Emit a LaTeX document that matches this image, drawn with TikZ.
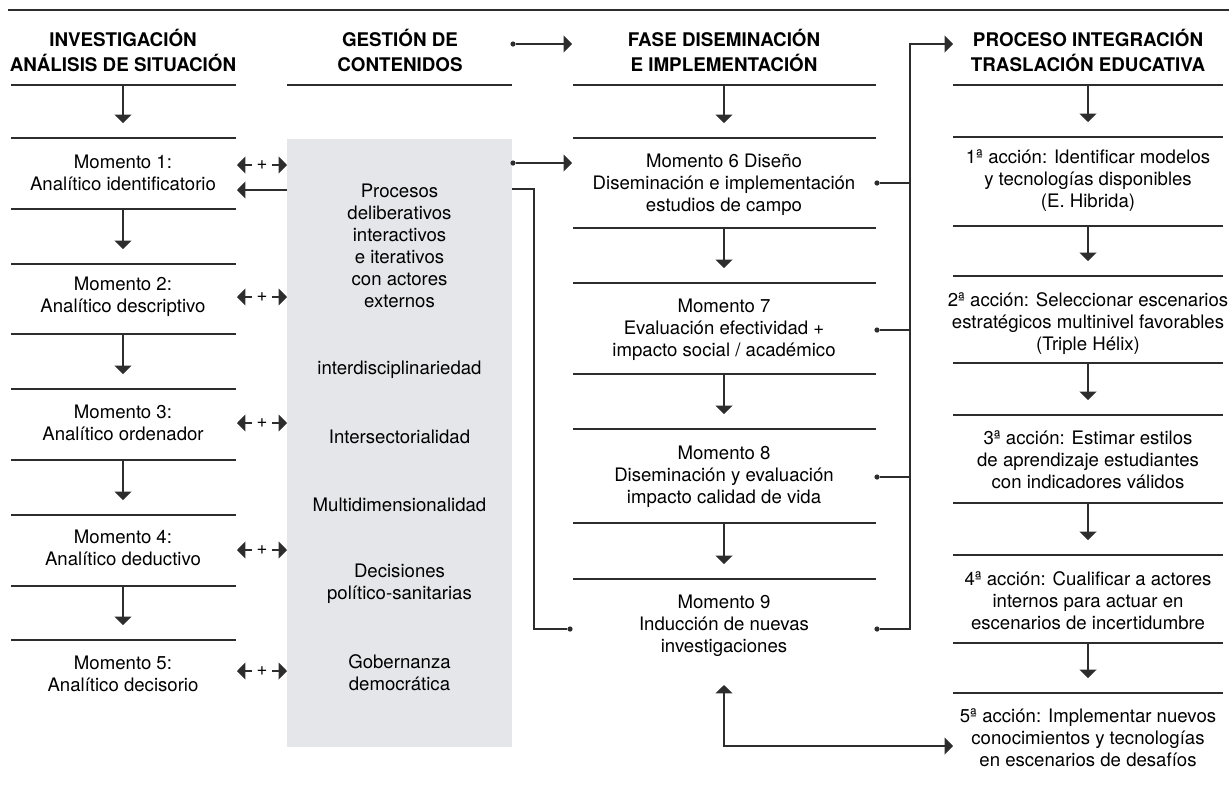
\documentclass[tikz,border=0pt]{standalone}
\usepackage{fontspec}
\setmainfont{TeX Gyre Heros}
\usetikzlibrary{arrows.meta}

\definecolor{panel}{RGB}{229,230,234}
\definecolor{ink}{RGB}{45,45,45}

\begin{document}
\begin{tikzpicture}[x=0.5pt, y=-0.5pt,
    every node/.style={font=\fontsize{9.3}{11}\selectfont, align=center},
    head/.style={font=\bfseries\fontsize{9.4}{12.5}\selectfont},
    rule/.style={draw=ink, line width=0.6pt},
    tip/.style={rule, -{Triangle[width=8.5pt,length=4.2pt]}},
    tips/.style={rule, {Triangle[width=8.5pt,length=4.2pt]}-{Triangle[width=8.5pt,length=4.2pt]}},
    dot/.style={circle, fill=ink, inner sep=0pt, minimum size=2.6pt}]

\useasboundingbox (0,0) rectangle (1229,784);
\draw[rule] (8,10) -- (1229,10);

% headers
\node[head] (h1) at (123,50) {INVESTIGACIÓN\\ANÁLISIS DE SITUACIÓN};
\node[head] (h2) at (400,50) {GESTIÓN DE\\CONTENIDOS};
\node[head] (h3) at (724,50) {FASE DISEMINACIÓN\\E IMPLEMENTACIÓN};
\node[head] (h4) at (1088,50) {PROCESO INTEGRACIÓN\\TRASLACIÓN EDUCATIVA};
\draw[rule] (287,85) -- (512,85);

% gray panel
\fill[panel] (287,139) rectangle (512,747);

% pairs of rules with a down arrow between them
\foreach \l/\r/\m/\ya/\yb [count=\i] in {
    11/236/123/85/138, 11/236/123/209/264, 11/236/123/334/389,
    11/236/123/460/515, 11/236/123/586/640,
    573/876/724/85/138, 573/876/724/228/283, 573/876/724/374/429,
    573/876/724/523/579,
    953/1223/1088/85/137, 953/1223/1088/226/276, 953/1223/1088/363/415,
    953/1223/1088/503/555, 953/1223/1088/643/693}{
  \draw[rule] (\l,\ya) -- (\r,\ya);
  \draw[rule] (\l,\yb) -- (\r,\yb);
  \coordinate (s\i) at (\m,\ya);
  \coordinate (e\i) at (\m,\yb-15);
  \draw[tip] (s\i) -- (e\i);
}

% investigacion
\node (m1) at (123,173) {Momento 1:\\Analítico identificatorio};
\node (m2) at (123,297) {Momento 2:\\Analítico descriptivo};
\node (m3) at (123,423) {Momento 3:\\Analítico ordenador};
\node (m4) at (123,548) {Momento 4:\\Analítico deductivo};
\node (m5) at (123,674) {Momento 5:\\Analítico decisorio};

% gestion de contenidos
\node (g1) at (399.5,246) {Procesos\\deliberativos\\interactivos\\e iterativos\\con actores\\externos};
\node (g2) at (399.5,370) {interdisciplinariedad};
\node (g3) at (399.5,437) {Intersectorialidad};
\node (g4) at (399.5,505) {Multidimensionalidad};
\node (g5) at (399.5,584) {Decisiones\\político-sanitarias};
\node (g6) at (399.5,673) {Gobernanza\\democrática};

% diseminacion
\node (m6) at (724,185) {Momento 6 Diseño\\Diseminación e implementación\\estudios de campo};
\node (m7) at (724,330) {Momento 7\\Evaluación efectividad +\\impacto social / académico};
\node (m8) at (724,477) {Momento 8\\Diseminación y evaluación\\impacto calidad de vida};
\node (m9) at (724,626) {Momento 9\\Inducción de nuevas\\investigaciones};

% integracion
\node (a1) at (1088,181) {1ª acción: Identificar modelos\\y tecnologías disponibles\\(E. Hibrida)};
\node (a2) at (1088,324) {2ª acción: Seleccionar escenarios\\estratégicos multinivel favorables\\(Triple Hélix)};
\node (a3) at (1088,460) {3ª acción: Estimar estilos\\de aprendizaje estudiantes\\con indicadores válidos};
\node (a4) at (1088,601) {4ª acción: Cualificar a actores\\internos para actuar en\\escenarios de incertidumbre};
\node (a5) at (1088,738) {5ª acción: Implementar nuevos\\conocimientos y tecnologías\\en escenarios de desafíos};

% two-way links between momentos and the panel
\foreach \y [count=\i] in {165,297,423,550,671}{
  \node[inner sep=2pt] (p\i) at (262,\y) {+};
  \coordinate (pl\i) at (237,\y);
  \coordinate (pr\i) at (287,\y);
  \draw[tip] (p\i.west) -- (pl\i);
  \draw[tip] (p\i.east) -- (pr\i);
}
\coordinate (gl) at (287,190);
\coordinate (ml) at (237,190);
\draw[tip] (gl) -- (ml);

% panel to diseminacion
\node[dot] (d1) at (513,44) {};
\node[dot] (d2) at (513,163) {};
\coordinate (t1) at (572,44);
\coordinate (t2) at (572,163);
\draw[tip] (d1) -- (t1);
\draw[tip] (d2) -- (t2);
\coordinate (gr) at (512,189);
\node[dot] (d9) at (570,629) {};
\draw[rule] (gr) -- (534,189) |- (d9);

% diseminacion to integracion
\node[dot] (r6) at (877,183) {};
\node[dot] (r7) at (877,330) {};
\node[dot] (r8) at (877,477) {};
\node[dot] (r9) at (877,629) {};
\coordinate (t4) at (953,44);
\draw[tip] (r9) -| (910,44) -- (t4);
\draw[rule] (r6) -- (910,183);
\draw[rule] (r7) -- (910,330);
\draw[rule] (r8) -- (910,477);

% feedback
\coordinate (up9) at (724,685);
\coordinate (a5w) at (953,746);
\draw[tips] (up9) |- (a5w);

\end{tikzpicture}
\end{document}
